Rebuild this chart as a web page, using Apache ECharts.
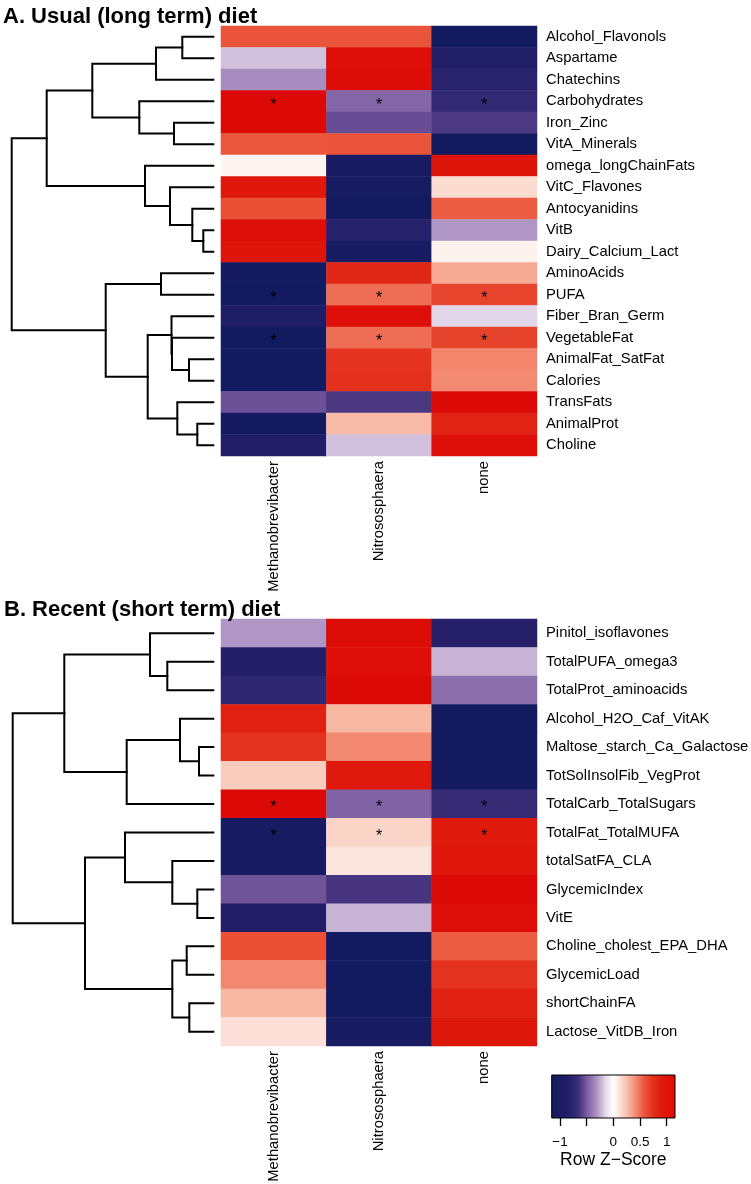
<!DOCTYPE html>
<html>
<head>
<meta charset="utf-8">
<script src="https://cdn.jsdelivr.net/npm/echarts@6/dist/echarts.min.js"></script>
<style>html,body{margin:0;padding:0;background:#fff;}#c{width:751px;height:1184px;}</style>
</head>
<body>
<div id="c"></div>
<script>
// ---------- data ----------
const columns = ['Methanobrevibacter', 'Nitrososphaera', 'none'];

const rowsA = ['Alcohol_Flavonols','Aspartame','Chatechins','Carbohydrates','Iron_Zinc','VitA_Minerals',
  'omega_longChainFats','VitC_Flavones','Antocyanidins','VitB','Dairy_Calcium_Lact','AminoAcids','PUFA',
  'Fiber_Bran_Germ','VegetableFat','AnimalFat_SatFat','Calories','TransFats','AnimalProt','Choline'];
const valuesA = [
  [0.58, 0.58, -1.155],
  [-0.2, 1.085, -0.885],
  [-0.33, 1.12, -0.79],
  [1.15, -0.46, -0.69],
  [1.15, -0.54, -0.61],
  [0.57, 0.58, -1.15],
  [0.04, -1.02, 0.98],
  [0.93, -1.07, 0.14],
  [0.6, -1.155, 0.555],
  [1.1, -0.8, -0.3],
  [0.98, -1.03, 0.05],
  [-1.12, 0.8, 0.32],
  [-1.15, 0.5, 0.65],
  [-0.92, 1.07, -0.15],
  [-1.155, 0.5, 0.655],
  [-1.15, 0.72, 0.43],
  [-1.15, 0.74, 0.41],
  [-0.53, -0.62, 1.15],
  [-1.11, 0.27, 0.84],
  [-0.87, -0.2, 1.07]
];
const starRowsA = [3, 12, 14];
// merges: [childA, childB, height]; leaves 0..n-1, merge k creates node n+k
const mergesA = [
  [0, 1, 31], [20, 2, 57.3], [4, 5, 39.3], [3, 22, 74], [21, 23, 121],
  [9, 10, 10], [8, 25, 21], [7, 26, 43.3], [6, 27, 68.3], [24, 28, 166.6],
  [11, 12, 52.3], [15, 16, 24.3], [14, 31, 41.3], [13, 32, 41.8], [18, 19, 16],
  [17, 34, 36], [33, 35, 65.6], [30, 36, 107.6], [29, 37, 201.6]
];

const rowsB = ['Pinitol_isoflavones','TotalPUFA_omega3','TotalProt_aminoacids','Alcohol_H2O_Caf_VitAK',
  'Maltose_starch_Ca_Galactose','TotSolInsolFib_VegProt','TotalCarb_TotalSugars','TotalFat_TotalMUFA',
  'totalSatFA_CLA','GlycemicIndex','VitE','Choline_cholest_EPA_DHA','GlycemicLoad','shortChainFA','Lactose_VitDB_Iron'];
const valuesB = [
  [-0.3, 1.12, -0.82],
  [-0.85, 1.08, -0.23],
  [-0.72, 1.15, -0.43],
  [0.85, 0.28, -1.13],
  [0.73, 0.42, -1.15],
  [0.2, 0.9, -1.1],
  [1.15, -0.47, -0.68],
  [-1.08, 0.17, 0.91],
  [-1.06, 0.1, 0.96],
  [-0.52, -0.63, 1.15],
  [-0.87, -0.23, 1.1],
  [0.6, -1.155, 0.555],
  [0.42, -1.15, 0.73],
  [0.28, -1.13, 0.85],
  [0.12, -1.06, 0.94]
];
const starRowsB = [6, 7];
const mergesB = [
  [1, 2, 46], [0, 15, 63.3], [4, 5, 14.3], [3, 17, 33.3], [18, 6, 86.6],
  [16, 19, 149], [9, 10, 16], [8, 21, 41], [7, 22, 88.3], [11, 12, 26.6],
  [13, 14, 24], [24, 25, 41], [23, 26, 128.3], [20, 27, 200.6]
];

const keyTicks = [-1, -0.5, 0, 0.5, 1];
const keyLabels = [-1, 0, 0.5, 1];
const zMax = 1.1547;

// ---------- palette ----------
const paletteStops = [
  [-1.1547, '#121a60'], [-0.85, '#221e67'], [-0.68, '#352a75'], [-0.6, '#503b84'],
  [-0.5, '#765a9e'], [-0.4, '#9478b2'], [-0.3, '#b095c4'], [-0.15, '#e2d8e8'],
  [0, '#ffffff'], [0.12, '#fde0d8'], [0.28, '#f7b8a4'], [0.42, '#f38870'],
  [0.577, '#ea553b'], [0.73, '#e3321e'], [0.9, '#df1a0c'], [1.1547, '#dc0a06']
];
function hex2rgb(h){ return [parseInt(h.slice(1,3),16), parseInt(h.slice(3,5),16), parseInt(h.slice(5,7),16)]; }
function colorAt(v){
  for (let i = 0; i < paletteStops.length - 1; i++) {
    const a = paletteStops[i], b = paletteStops[i+1];
    if (v <= b[0] || i === paletteStops.length - 2) {
      const t = Math.max(0, Math.min(1, (v - a[0]) / (b[0] - a[0])));
      const ca = hex2rgb(a[1]), cb = hex2rgb(b[1]);
      return 'rgb(' + ca.map((x, k) => Math.round(x + (cb[k] - x) * t)).join(',') + ')';
    }
  }
}
const N = 121;
const rampColors = [];
for (let i = 0; i < N; i++) rampColors.push(colorAt(-zMax + 2 * zMax * i / (N - 1)));
const gradStops = rampColors.map((c, i) => ({ offset: i / (N - 1), color: c }));

// ---------- helpers ----------
function heatData(values, starRows) {
  const out = [];
  values.forEach((row, r) => row.forEach((v, c) => {
    const item = { value: [c, r, v] };
    if (starRows.indexOf(r) >= 0) item.label = { show: true };
    out.push(item);
  }));
  return out;
}
function dendroSegments(merges, n) {
  const pos = [];
  for (let i = 0; i < n; i++) pos.push([0, i + 0.5]);
  const segs = [];
  merges.forEach(m => {
    const a = pos[m[0]], b = pos[m[1]], h = m[2];
    segs.push({ coords: [[a[0], a[1]], [h, a[1]], [h, b[1]], [b[0], b[1]]] });
    pos.push([h, (a[1] + b[1]) / 2]);
  });
  return segs;
}

const FONT = 'Liberation Sans, Arial, Helvetica, sans-serif';
const chart = echarts.init(document.getElementById('c'), null, { renderer: 'canvas' });

const heatGridA = { left: 221, top: 26, width: 316, height: 430 };
const heatGridB = { left: 221, top: 619, width: 316, height: 427 };

function heatX(gi) {
  return {
    type: 'category', gridIndex: gi, data: columns, position: 'bottom',
    axisLine: { show: false }, axisTick: { show: false }, splitLine: { show: false },
    axisLabel: { rotate: 90, margin: 5, fontSize: 14.8, color: '#000', fontFamily: FONT, interval: 0 }
  };
}
function heatY(gi, rows) {
  return {
    type: 'category', gridIndex: gi, data: rows, inverse: true, position: 'right',
    axisLine: { show: false }, axisTick: { show: false }, splitLine: { show: false },
    axisLabel: { margin: 9, fontSize: 14.8, color: '#000', fontFamily: FONT, interval: 0 }
  };
}
function heatSeries(gi, values, stars) {
  return {
    type: 'heatmap', xAxisIndex: gi, yAxisIndex: gi, data: heatData(values, stars),
    itemStyle: { borderWidth: 0 },
    label: { show: false, formatter: '*', color: '#000', fontSize: 16, fontFamily: FONT, offset: [0, 4] },
    emphasis: { disabled: true }
  };
}
function dendroSeries(idx, merges, n) {
  return {
    type: 'lines', coordinateSystem: 'cartesian2d', xAxisIndex: idx, yAxisIndex: idx,
    polyline: true, silent: true, data: dendroSegments(merges, n),
    lineStyle: { color: '#000', width: 2, opacity: 1, cap: 'square', join: 'miter' }
  };
}

const option = {
  backgroundColor: '#fff',
  animation: false,
  title: [
    { text: 'A. Usual (long term) diet', left: 3, top: 6, padding: 0,
      textStyle: { fontSize: 22, fontWeight: 'bold', color: '#000', fontFamily: FONT } },
    { text: 'B. Recent (short term) diet', left: 4, top: 599, padding: 0,
      textStyle: { fontSize: 22, fontWeight: 'bold', color: '#000', fontFamily: FONT } }
  ],
  grid: [
    Object.assign({ outerBoundsMode: 'none' }, heatGridA),
    Object.assign({ outerBoundsMode: 'none' }, heatGridB),
    { left: 11.7, top: 26, width: 201.6, height: 430, outerBoundsMode: 'none' },
    { left: 12.7, top: 619, width: 200.6, height: 427, outerBoundsMode: 'none' },
    { left: 551.7, top: 1075, width: 123.3, height: 43, outerBoundsMode: 'none' }
  ],
  xAxis: [
    heatX(0), heatX(1),
    { type: 'value', gridIndex: 2, min: 0, max: 201.6, inverse: true, show: false },
    { type: 'value', gridIndex: 3, min: 0, max: 200.6, inverse: true, show: false },
    { type: 'value', gridIndex: 4, min: -zMax, max: zMax, position: 'bottom',
      axisLine: { show: false }, splitLine: { show: false },
      axisTick: { show: true, length: 8, customValues: keyTicks, lineStyle: { color: '#000', width: 1.3 } },
      axisLabel: { customValues: keyLabels, margin: 17, fontSize: 13.5, color: '#000', fontFamily: FONT,
        formatter: v => (v < 0 ? '\u2212' + Math.abs(v) : String(v)) },
      name: 'Row Z\u2212Score', nameLocation: 'middle', nameGap: 33,
      nameTextStyle: { fontSize: 17.5, color: '#000', fontFamily: FONT } }
  ],
  yAxis: [
    heatY(0, rowsA), heatY(1, rowsB),
    { type: 'value', gridIndex: 2, min: 0, max: rowsA.length, inverse: true, show: false },
    { type: 'value', gridIndex: 3, min: 0, max: rowsB.length, inverse: true, show: false },
    { type: 'value', gridIndex: 4, min: 0, max: 1, show: false }
  ],
  visualMap: {
    show: false, type: 'continuous', min: -zMax, max: zMax, seriesIndex: [0, 1], dimension: 2,
    inRange: { color: rampColors }
  },
  series: [
    heatSeries(0, valuesA, starRowsA),
    heatSeries(1, valuesB, starRowsB),
    dendroSeries(2, mergesA, rowsA.length),
    dendroSeries(3, mergesB, rowsB.length),
    {
      type: 'custom', xAxisIndex: 4, yAxisIndex: 4, silent: true,
      data: [[-zMax, zMax]], encode: { x: [0, 1] },
      renderItem: function (params, api) {
        const p0 = api.coord([api.value(0), 1]);
        const p1 = api.coord([api.value(1), 0]);
        return {
          type: 'rect',
          shape: { x: p0[0], y: p0[1], width: p1[0] - p0[0], height: p1[1] - p0[1] },
          style: { fill: new echarts.graphic.LinearGradient(0, 0, 1, 0, gradStops), stroke: '#000', lineWidth: 1 }
        };
      }
    }
  ]
};
chart.setOption(option);
</script>
</body>
</html>
